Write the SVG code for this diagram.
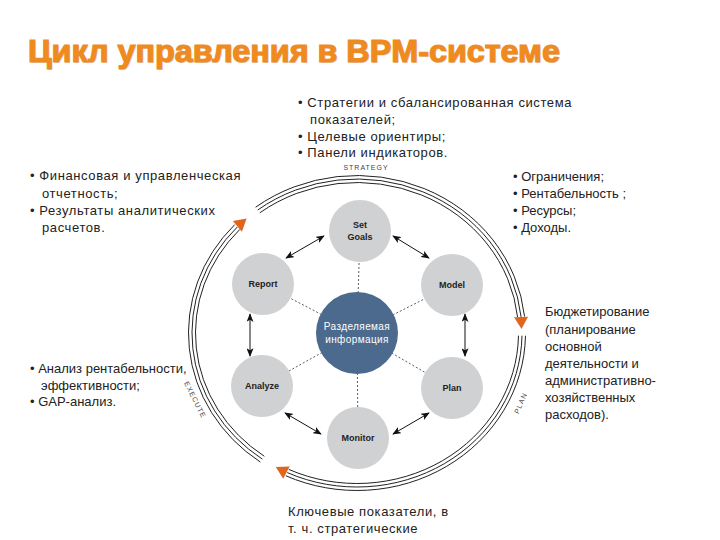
<svg xmlns="http://www.w3.org/2000/svg" width="720" height="540" viewBox="0 0 720 540">
<defs>
<style>
.t{font-family:"Liberation Sans",Arial,sans-serif;font-size:13px;fill:#222}
.w{letter-spacing:0.6px}
.title{font-family:"Liberation Sans",Arial,sans-serif;font-size:32px;font-weight:bold}
.node{fill:#d0d1d3}
.nl{font-family:"Liberation Sans",Arial,sans-serif;font-size:9px;font-weight:bold;fill:#222;text-anchor:middle}
.cl{font-family:"Liberation Sans Narrow","Liberation Sans",Arial,sans-serif;font-size:10px;fill:#fff;text-anchor:middle;letter-spacing:0.4px}
.ring{fill:none;stroke:#222;stroke-width:1}
.dot{stroke:#333;stroke-width:0.8;stroke-dasharray:2 2}
.dbl{stroke:#111;stroke-width:1;fill:none;marker-start:url(#ah);marker-end:url(#ah)}
.oa{fill:#e0661e}
.rl{font-family:"Liberation Sans",Arial,sans-serif;font-size:7px;fill:#444;letter-spacing:1px;text-anchor:middle}
</style>
<marker id="ah" viewBox="0 0 10 8" refX="9" refY="4" markerWidth="9" markerHeight="7" markerUnits="userSpaceOnUse" orient="auto-start-reverse">
<path d="M0,0 L10,4 L0,8 L2.5,4 z" fill="#111"/>
</marker>
</defs>
<rect width="720" height="540" fill="#fff"/>

<g id="title">
<text class="title" x="29" y="63" fill="#bbb" textLength="532" lengthAdjust="spacingAndGlyphs" opacity="0.6">Цикл управления в BPM-системе</text>
<text class="title" x="28" y="62" fill="#ef8a1f" stroke="#ef8a1f" stroke-width="1.2" textLength="532" lengthAdjust="spacingAndGlyphs">Цикл управления в BPM-системе</text>
</g>

<g id="ring">
<g id="strategy-arc">
<path class="ring" d="M259.81,212.81 A161.5,150.5 0 0 1 517.61,317.27"/>
<path class="ring" d="M257.70,210.02 A165,154 0 0 1 521.09,316.91"/>
<path class="ring" d="M255.60,207.22 A168.5,157.5 0 0 1 524.57,316.54"/>
<polygon class="oa" points="0,0 -12,-7 -12,7" transform="translate(521.5,329) rotate(88)"/>
<text class="rl" x="366" y="170">STRATEGY</text>
</g>
<g id="plan-arc">
<path class="ring" d="M518.48,335.63 A161.5,150.5 0 0 1 288.75,469.40"/>
<path class="ring" d="M521.98,335.69 A165,154 0 0 1 287.27,472.57"/>
<path class="ring" d="M525.47,335.75 A168.5,157.5 0 0 1 285.79,475.74"/>
<polygon class="oa" points="0,0 -12,-7 -12,7" transform="translate(275.8,467) rotate(207.8)"/>
<text class="rl" x="0" y="0" transform="translate(523,404) rotate(-66)">PLAN</text>
</g>
<g id="execute-arc">
<path class="ring" d="M264.36,456.29 A161.5,150.5 0 0 1 239.85,229.40"/>
<path class="ring" d="M262.36,459.16 A165,154 0 0 1 237.31,226.99"/>
<path class="ring" d="M260.35,462.02 A168.5,157.5 0 0 1 234.77,224.58"/>
<polygon class="oa" points="0,0 -12,-7 -12,7" transform="translate(246.6,218.6) rotate(-40)"/>
<text class="rl" x="0" y="0" transform="translate(193,401) rotate(63.5)">EXECUTE</text>
</g>
</g>

<g id="connectors">
<line class="dot" x1="357" y1="333" x2="360" y2="231"/>
<line class="dot" x1="357" y1="333" x2="452" y2="285"/>
<line class="dot" x1="357" y1="333" x2="452" y2="388"/>
<line class="dot" x1="357" y1="333" x2="358" y2="438"/>
<line class="dot" x1="357" y1="333" x2="262" y2="386"/>
<line class="dot" x1="357" y1="333" x2="263" y2="284"/>
<line class="dbl" x1="286" y1="258" x2="324" y2="236"/>
<line class="dbl" x1="393" y1="236" x2="429" y2="258"/>
<line class="dbl" x1="465" y1="314" x2="465" y2="356"/>
<line class="dbl" x1="429" y1="413" x2="393" y2="434"/>
<line class="dbl" x1="321" y1="434" x2="285" y2="413"/>
<line class="dbl" x1="250" y1="356" x2="250" y2="314"/>
</g>

<g id="center">
<circle cx="357" cy="333" r="41" fill="#4b6a8d"/>
<text class="cl" x="357" y="330">Разделяемая</text>
<text class="cl" x="357" y="343">информация</text>
</g>
<g id="set-goals"><circle class="node" cx="360" cy="231" r="31"/><text class="nl" x="360" y="228">Set</text><text class="nl" x="360" y="240">Goals</text></g>
<g id="model"><circle class="node" cx="452" cy="285" r="31"/><text class="nl" x="452" y="288">Model</text></g>
<g id="plan"><circle class="node" cx="452" cy="388" r="31"/><text class="nl" x="452" y="391">Plan</text></g>
<g id="monitor"><circle class="node" cx="358" cy="438" r="31"/><text class="nl" x="358" y="441">Monitor</text></g>
<g id="analyze"><circle class="node" cx="262" cy="386" r="31"/><text class="nl" x="262" y="389">Analyze</text></g>
<g id="report"><circle class="node" cx="263" cy="284" r="31"/><text class="nl" x="263" y="287">Report</text></g>

<g id="text-top">
<text class="t w" x="298" y="107">• Стратегии и сбалансированная система</text>
<text class="t w" x="310" y="124">показателей;</text>
<text class="t w" x="298" y="141">• Целевые ориентиры;</text>
<text class="t w" x="298" y="157">• Панели индикаторов.</text>
</g>
<g id="text-left">
<text class="t w" x="30" y="180">• Финансовая и управленческая</text>
<text class="t w" x="42" y="198">отчетность;</text>
<text class="t w" x="30" y="215">• Результаты аналитических</text>
<text class="t w" x="42" y="232">расчетов.</text>
</g>
<g id="text-right">
<text class="t" x="513" y="181">• Ограничения;</text>
<text class="t" x="513" y="198">• Рентабельность ;</text>
<text class="t" x="513" y="215">• Ресурсы;</text>
<text class="t" x="513" y="232">• Доходы.</text>
</g>
<g id="text-budget">
<text class="t" x="545" y="316">Бюджетирование</text>
<text class="t" x="545" y="334">(планирование</text>
<text class="t" x="545" y="351">основной</text>
<text class="t" x="545" y="368">деятельности и</text>
<text class="t" x="545" y="385">административно-</text>
<text class="t" x="545" y="402">хозяйственных</text>
<text class="t" x="545" y="419">расходов).</text>
</g>
<g id="text-analysis">
<text class="t" x="30" y="373">• Анализ рентабельности,</text>
<text class="t" x="41" y="390">эффективности;</text>
<text class="t" x="30" y="406">• GAP-анализ.</text>
</g>
<g id="text-bottom">
<text class="t w" x="288" y="516">Ключевые показатели, в</text>
<text class="t w" x="288" y="533">т. ч. стратегические</text>
</g>
</svg>
